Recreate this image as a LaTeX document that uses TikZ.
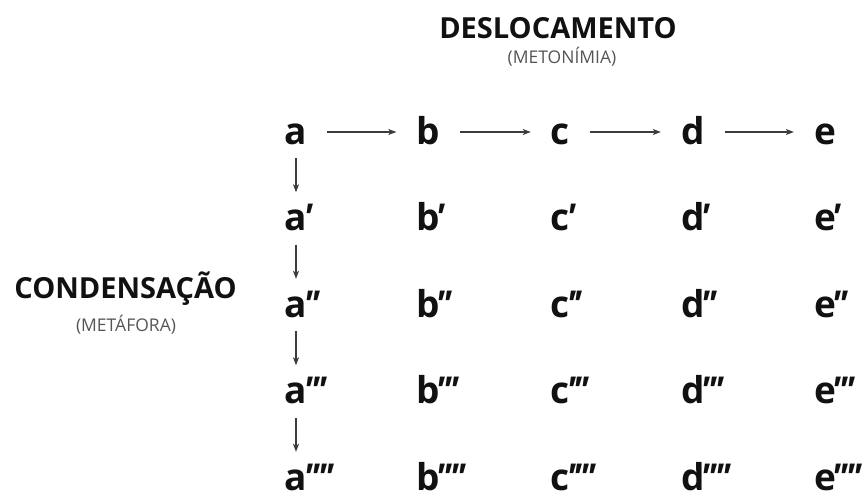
\documentclass[tikz,border=0pt]{standalone}
\usepackage{fontspec}
\setmainfont{Open Sans}
\usetikzlibrary{arrows.meta,positioning}
\definecolor{dInk}{HTML}{111111}
\definecolor{dArrow}{HTML}{3C3C3C}
\definecolor{dSub}{HTML}{555555}
% one slanted prime, set tighter than the font does
\newcommand{\pr}{{\itshape ′}\kern-2.5pt}
\newcommand{\prm}[1]{\rlap{\kern-4pt#1}}

\begin{document}
\begin{tikzpicture}[x=1pt, y=-1pt,
  text=dInk,
  node distance=86.5pt and 132.25pt,
  >={Stealth[length=8pt, width=6pt, inset=2pt]},
  sym/.style={on grid, inner xsep=20pt, inner ysep=14pt, text height=24pt, text depth=0pt,
              font=\fontsize{37}{40}\selectfont\bfseries},
  bigtitle/.style={anchor=base, inner sep=0pt, font=\fontsize{29}{32}\selectfont\bfseries},
  subtitle/.style={anchor=base, inner sep=0pt, text=dSub, font=\fontsize{17.5}{20}\selectfont},
  flow/.style={->, draw=dArrow, line width=1.2pt},
]
\useasboundingbox (0,0) rectangle (865,498);

% headings
\node[bigtitle] (desl) at (558,38) {DESLOCAMENTO};
\node[subtitle] (meto) at (562,63) {(METONÍMIA)};
\node[bigtitle] (cond) at (125.5,298) {CONDENSAÇÃO};
\node[subtitle] (meta) at (126,331) {(METÁFORA)};

% first row
\node[sym] (a) at (296,132) {a};
\node[sym, right=of a] (b) {b};
\node[sym, right=of b] (c) {c};
\node[sym, right=of c] (d) {d};
\node[sym, right=of d] (e) {e};

% primes (kept out of the box width so the letters stay centred)
\node[sym, below=of a] (a1) {a\prm{\pr}};
\node[sym, below=of b] (b1) {b\prm{\pr}};
\node[sym, below=of c] (c1) {c\prm{\pr}};
\node[sym, below=of d] (d1) {d\prm{\pr}};
\node[sym, below=of e] (e1) {e\prm{\pr}};

\node[sym, below=of a1] (a2) {a\prm{\pr\pr}};
\node[sym, below=of b1] (b2) {b\prm{\pr\pr}};
\node[sym, below=of c1] (c2) {c\prm{\pr\pr}};
\node[sym, below=of d1] (d2) {d\prm{\pr\pr}};
\node[sym, below=of e1] (e2) {e\prm{\pr\pr}};

\node[sym, below=of a2] (a3) {a\prm{\pr\pr\pr}};
\node[sym, below=of b2] (b3) {b\prm{\pr\pr\pr}};
\node[sym, below=of c2] (c3) {c\prm{\pr\pr\pr}};
\node[sym, below=of d2] (d3) {d\prm{\pr\pr\pr}};
\node[sym, below=of e2] (e3) {e\prm{\pr\pr\pr}};

\node[sym, below=of a3] (a4) {a\prm{\pr\pr\pr\pr}};
\node[sym, below=of b3] (b4) {b\prm{\pr\pr\pr\pr}};
\node[sym, below=of c3] (c4) {c\prm{\pr\pr\pr\pr}};
\node[sym, below=of d3] (d4) {d\prm{\pr\pr\pr\pr}};
\node[sym, below=of e3] (e4) {e\prm{\pr\pr\pr\pr}};

% displacement
\draw[flow] (a) -- (b);
\draw[flow] (b) -- (c);
\draw[flow] (c) -- (d);
\draw[flow] (d) -- (e);

% condensation
\draw[flow] (a) -- (a1);
\draw[flow] (a1) -- (a2);
\draw[flow] (a2) -- (a3);
\draw[flow] (a3) -- (a4);

\end{tikzpicture}
\end{document}
